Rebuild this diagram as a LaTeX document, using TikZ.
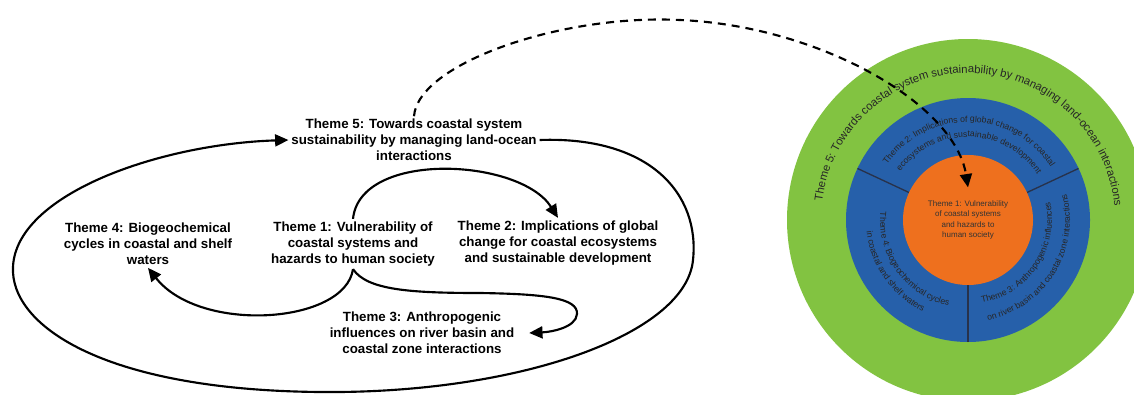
\documentclass[tikz,border=0pt]{standalone}
\usepackage{fontspec}
\setmainfont{Liberation Sans}
\usetikzlibrary{arrows.meta,decorations.text,calc}
\definecolor{ringgreen}{RGB}{130,195,65}
\definecolor{ringblue}{RGB}{38,96,170}
\definecolor{coreorange}{RGB}{238,112,30}
\definecolor{divider}{RGB}{40,50,75}
\tikzstyle{theme}=[align=center,inner sep=2pt,font=\bfseries\fontsize{10}{12}\selectfont]
\tikzstyle{flow} = [draw,line width=1.6pt,-{Triangle[length=10pt,width=9pt]}]
\tikzstyle{link} = [draw,line width=1.6pt,dash pattern=on 6pt off 4.5pt,-{Triangle[length=10pt,width=9pt]}]
\tikzstyle{ringtext} = [decorate]

\begin{document}
\begin{tikzpicture}[x=0.75pt,y=0.75pt]
    \useasboundingbox (0,0) rectangle (1134,394);
    \clip (0,0) rectangle (1134,394);

    % The target: rings round the core theme
    \coordinate (hub) at (968,174);
    \fill[ringgreen] (hub) circle (181);
    \fill[ringblue] (hub) circle (122);
    \foreach \ang in {25,155,270}
        \draw[divider,line width=1pt] ($(hub)+(\ang:64)$) -- ($(hub)+(\ang:122)$);
    \node[circle,fill=coreorange,minimum size=97.5pt,inner sep=0pt,align=center,
          text=black!80,font=\fontsize{6}{7.8}\selectfont] (core) at (hub)
        {Theme 1: Vulnerability\\of coastal systems\\and hazards to\\human society};

    % Texts along the rings
    \path[ringtext,decoration={text along path,text align=center,
        text={|\fontsize{8.5}{10}\selectfont\color{black!85}|Theme 5: Towards coastal system sustainability by managing land-ocean interactions}}]
        (hub) ++(215:147) arc[start angle=215,end angle=-37,radius=147];
    \path[ringtext,decoration={text along path,text align=center,
        text={|\fontsize{6.5}{7}\selectfont\color{black!85}|Theme 2: Implications of global change for coastal}}]
        (hub) ++(179:98) arc[start angle=179,end angle=-1,radius=98];
    \path[ringtext,decoration={text along path,text align=center,
        text={|\fontsize{6.5}{7}\selectfont\color{black!85}|ecosystems and sustainable development}}]
        (hub) ++(179:83) arc[start angle=179,end angle=-1,radius=83];
    \path[ringtext,decoration={text along path,text align=center,
        text={|\fontsize{6.5}{7}\selectfont\color{black!85}|Theme 4: Biogeochemical cycles}}]
        (hub) ++(136:88) arc[start angle=136,end angle=296,radius=88];
    \path[ringtext,decoration={text along path,text align=center,
        text={|\fontsize{6.5}{7}\selectfont\color{black!85}|in coastal and shelf waters}}]
        (hub) ++(135:102) arc[start angle=135,end angle=295,radius=102];
    \path[ringtext,decoration={text along path,text align=center,
        text={|\fontsize{6.5}{7}\selectfont\color{black!85}|Theme 3: Anthropogenic influences}}]
        (hub) ++(246:84) arc[start angle=246,end angle=406,radius=84];
    \path[ringtext,decoration={text along path,text align=center,
        text={|\fontsize{6.5}{7}\selectfont\color{black!85}|on river basin and coastal zone interactions}}]
        (hub) ++(248:102) arc[start angle=248,end angle=408,radius=102];

    % The themes as a cycle
    \node[theme] (t5) at (414,254) {Theme 5: Towards coastal system\\sustainability by managing land-ocean\\interactions};
    \node[theme] (t4) at (148,150) {Theme 4: Biogeochemical\\cycles in coastal and shelf\\waters};
    \node[theme] (t1) at (353,150) {Theme 1: Vulnerability of\\coastal systems and\\hazards to human society};
    \node[theme] (t2) at (558,151) {Theme 2: Implications of global\\change for coastal ecosystems\\and sustainable development};
    \node[theme] (t3) at (422,61) {Theme 3: Anthropogenic\\influences on river basin and\\coastal zone interactions};

    \path[flow] (t1.north) .. controls (360,244) and (520,236) .. (t2.north);
    \path[flow] (t1.south) .. controls (345,70) and (200,60) .. (t4.south);
    \path[flow] (t1.south) .. controls (367,104) and (410,101) .. (480,101)
        .. controls (545,100) and (578,96) .. (577,80)
        .. controls (576,66) and (550,62) .. ([xshift=9pt]t3.east);
    \path[flow] (t5.east) .. controls (650,258) and (700,200) .. (693,134)
        .. controls (686,60) and (520,0) .. (320,2)
        .. controls (100,4) and (10,70) .. (13,127)
        .. controls (16,200) and (160,250) .. (t5.west);

    % Theme 5 leads into the target
    \path[link] (t5.north) .. controls (418,330) and (560,380) .. (680,374)
        .. controls (820,368) and (955,290) .. ($(core.north)!0.5!(core.center)$);
\end{tikzpicture}
\end{document}
